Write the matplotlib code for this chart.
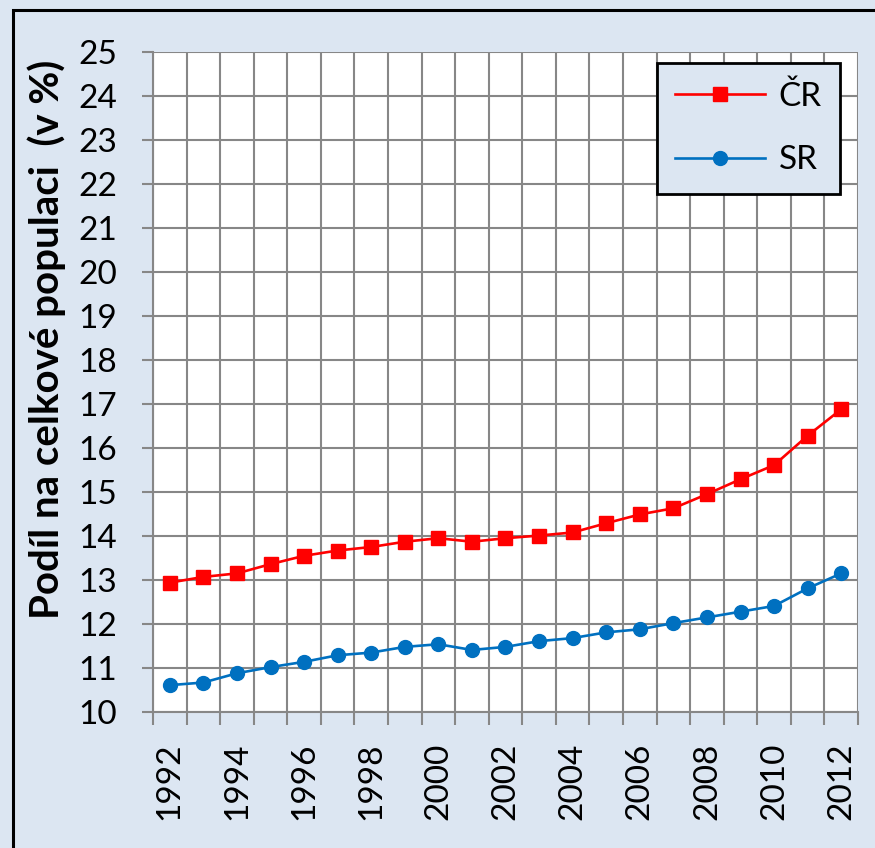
import matplotlib
matplotlib.use("Agg")
import matplotlib.pyplot as plt
from matplotlib.patches import Rectangle
from matplotlib.ticker import FixedLocator, MultipleLocator

plt.rcParams['font.family'] = ['Lato', 'DejaVu Sans']

# share of the age group in the whole population, per year
years = list(range(1992, 2013))
cr_values = [12.94, 13.07, 13.15, 13.36, 13.55, 13.67, 13.75, 13.87, 13.95, 13.87,
             13.95, 14.01, 14.08, 14.29, 14.49, 14.63, 14.95, 15.29, 15.61, 16.28, 16.88]
sr_values = [10.61, 10.67, 10.88, 11.02, 11.14, 11.29, 11.35, 11.48, 11.54, 11.41,
             11.48, 11.61, 11.68, 11.81, 11.88, 12.02, 12.15, 12.28, 12.41, 12.81, 13.15]
series_names = ['ČR', 'SR']

BG = '#dce6f2'
GRID = '#878787'

fig = plt.figure(figsize=(8.75, 8.48), dpi=100, facecolor=BG)
ax = fig.add_axes([153 / 875, 1 - 712 / 848, 705 / 875, 660 / 848])
ax.set_facecolor('white')

# outer frame of the chart area (partly cut off at right/bottom)
fig.patches.append(Rectangle((13 / 875, -0.05), 1.2, 1 - 10 / 848 + 0.05,
                             transform=fig.transFigure, fill=False,
                             edgecolor='black', linewidth=2.2, zorder=0))

x = list(range(len(years)))
ax.plot(x, cr_values, color='#ff0000', linewidth=1.9, marker='s', markersize=10,
        label=series_names[0], zorder=3)
ax.plot(x, sr_values, color='#0070c0', linewidth=1.9, marker='o', markersize=10,
        label=series_names[1], zorder=3)

ax.set_xlim(-0.5, len(years) - 0.5)
ax.set_ylim(10, 25)

# category gridlines sit between the years, labels on every other year
ax.xaxis.set_major_locator(FixedLocator(x[::2]))
ax.set_xticklabels([str(y) for y in years[::2]], rotation=90, fontsize=24)
ax.xaxis.set_minor_locator(FixedLocator([i - 0.5 for i in range(len(years) + 1)]))
ax.tick_params(axis='x', which='major', length=0, pad=22)
ax.tick_params(axis='x', which='minor', length=9, width=1.5, color=GRID)
ax.grid(True, which='minor', axis='x', color=GRID, linewidth=1.5)

ax.yaxis.set_major_locator(MultipleLocator(1))
ax.tick_params(axis='y', which='major', length=8, width=1.5, color=GRID,
               labelsize=24, pad=18)
ax.grid(True, which='major', axis='y', color=GRID, linewidth=1.5)
ax.set_axisbelow(True)

for side in ['top', 'right']:
    ax.spines[side].set_visible(False)
for side in ['left', 'bottom']:
    ax.spines[side].set_color(GRID)
    ax.spines[side].set_linewidth(1.5)

ax.set_ylabel('Podíl na celkové populaci  (v %)', fontsize=29, fontweight='bold',
              va='center')
ax.yaxis.set_label_coords(-0.151, 0.564)

leg = ax.legend(loc='upper right', bbox_to_anchor=(840 / 875, 1 - 63 / 848),
                bbox_transform=fig.transFigure, fontsize=24, frameon=True,
                fancybox=False, edgecolor='black', facecolor=BG, framealpha=1,
                handlelength=2.7, labelspacing=1.0, borderpad=0.55,
                handletextpad=0.4, borderaxespad=0)
leg.get_frame().set_linewidth(2)

fig.savefig('out.png', dpi=100, facecolor=BG)
